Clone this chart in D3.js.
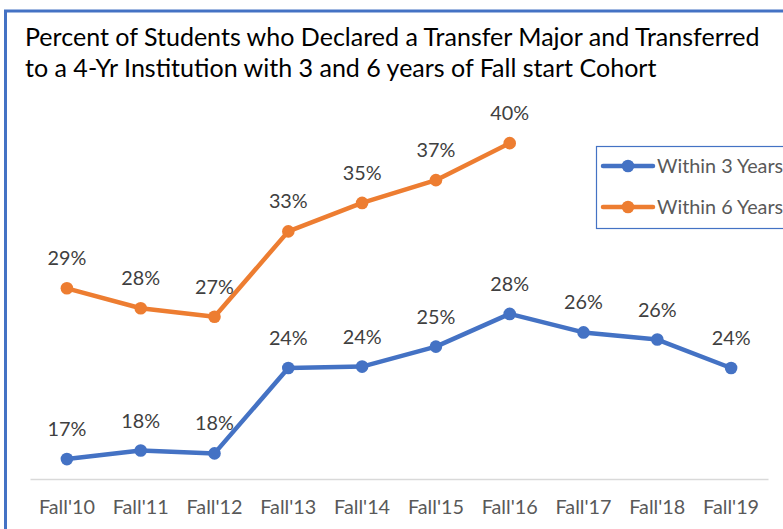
<!DOCTYPE html>
<html>
<head>
<meta charset="utf-8">
<script src="https://cdn.jsdelivr.net/npm/d3@7"></script>
<style>
    body { margin: 0; background: #fff; }
    svg { display: block; font-family: Lato, "Open Sans", sans-serif; }
</style>
</head>
<body>
<svg id="chart"></svg>
<script>
const width = 783, height = 529
const margin = {top: 109, bottom: 50, left: 30, right: 15}

const cohorts = ["Fall'10", "Fall'11", "Fall'12", "Fall'13", "Fall'14", "Fall'15", "Fall'16", "Fall'17", "Fall'18", "Fall'19"]
const within3 = [0.174, 0.180, 0.178, 0.238, 0.239, 0.253, 0.276, 0.263, 0.258, 0.238]
const within6 = [0.294, 0.280, 0.274, 0.334, 0.354, 0.370, 0.396]
const seriesNames = ["Within 3 Years", "Within 6 Years"]
const titleLines = [
    "Percent of Students who Declared a Transfer Major and Transferred",
    "to a 4-Yr Institution with 3 and 6 years of Fall start Cohort",
]

const colors = ["#4472C4", "#ED7D31"]

const svg = d3.select("svg#chart")
    .attr("viewBox", [0, 0, width, height])
    .attr("width", width)
    .attr("height", height)

// chart frame (right and bottom edges fall outside the picture)
svg.append("rect")
    .attr("x", 5.5).attr("y", 11)
    .attr("width", 900).attr("height", 700)
    .attr("fill", "#fff")
    .attr("stroke", "#4472C4")
    .attr("stroke-width", 3)

// shrink/grow a text's font so it spans the wanted width
function fitSize(sel, target, base) {
    sel.style("font-size", base + "px")
    const w = sel.node().getComputedTextLength()
    return base * target / w
}

// title
const title = svg.append("g").classed("title", true)
title.selectAll("text")
    .data(titleLines)
    .enter()
    .append("text")
    .attr("x", 25)
    .attr("y", (d, i) => 46 + i * 31)
    .attr("fill", "#000")
    .text(d => d)
const titleSize = fitSize(title.select("text"), 735, 26)
title.selectAll("text").style("font-size", titleSize + "px")

const xScale = d3.scaleBand()
    .domain(cohorts)
    .range([margin.left, width - margin.right])

const yScale = d3.scaleLinear()
    .domain([0.16, 0.42])
    .range([height - margin.bottom, margin.top])

const x = d => xScale(d) + xScale.bandwidth() / 2

// X axis
const xAxis = svg.append("g").classed("x-axis", true)
    .attr("transform", `translate(0, ${yScale(0.16)})`)
    .call(d3.axisBottom(xScale).tickSize(0).tickSizeOuter(0))
xAxis.select(".domain")
    .attr("stroke", "#d9d9d9")
    .attr("stroke-width", 1.5)
xAxis.selectAll("text")
    .attr("y", 35)
    .attr("dy", null)
    .attr("fill", "#595959")
    .style("font-family", "Lato, 'Open Sans', sans-serif")
const smallSize = fitSize(xAxis.select("text"), 56, 21)
xAxis.selectAll("text").style("font-size", smallSize + "px")

const pct = d3.format(".0%")

const series = [within3, within6].map((values, i) => ({
    name: seriesNames[i],
    color: colors[i],
    points: values.map((v, j) => ({cohort: cohorts[j], value: v})),
}))

const line = d3.line()
    .x(d => x(d.cohort))
    .y(d => yScale(d.value))

const groups = svg.append("g").classed("series", true)
    .selectAll("g")
    .data(series)
    .enter()
    .append("g")

groups.append("path")
    .attr("d", d => line(d.points))
    .attr("fill", "none")
    .attr("stroke", d => d.color)
    .attr("stroke-width", 4.5)
    .attr("stroke-linejoin", "round")
    .attr("stroke-linecap", "round")

groups.selectAll("circle")
    .data(d => d.points.map(p => ({...p, color: d.color})))
    .enter()
    .append("circle")
    .attr("cx", d => x(d.cohort))
    .attr("cy", d => yScale(d.value))
    .attr("r", 6.3)
    .attr("fill", d => d.color)

// data labels
groups.selectAll("text")
    .data(d => d.points)
    .enter()
    .append("text")
    .attr("x", d => x(d.cohort))
    .attr("y", d => yScale(d.value) - 23)
    .attr("text-anchor", "middle")
    .attr("fill", "#404040")
    .style("font-size", smallSize + "px")
    .text(d => pct(d.value))

// legend
const legend = svg.append("g").classed("legend", true)
    .attr("transform", "translate(596, 146)")
legend.append("rect")
    .attr("x", 0.5).attr("y", 0.5)
    .attr("width", 300).attr("height", 82)
    .attr("fill", "#fff")
    .attr("stroke", "#4472C4")
    .attr("stroke-width", 1.2)

const items = legend.selectAll("g")
    .data(series)
    .enter()
    .append("g")
    .attr("transform", (d, i) => `translate(0, ${20 + i * 41})`)
items.append("line")
    .attr("x1", 7).attr("x2", 57)
    .attr("stroke", d => d.color)
    .attr("stroke-width", 4.5)
    .attr("stroke-linecap", "round")
items.append("circle")
    .attr("cx", 32)
    .attr("r", 6.3)
    .attr("fill", d => d.color)
items.append("text")
    .attr("x", 61)
    .attr("y", 7)
    .attr("fill", "#595959")
    .style("font-size", smallSize + "px")
    .text(d => d.name)
</script>
</body>
</html>
